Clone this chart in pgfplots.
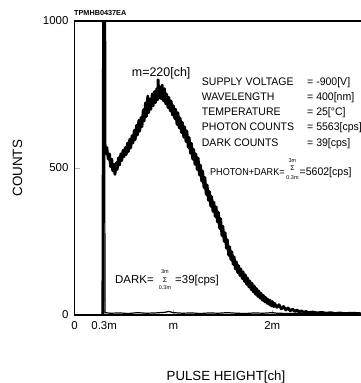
\documentclass[border=0pt]{standalone}
\usepackage{pgfplots}
\pgfplotsset{compat=1.18}
\usepackage{fontspec}
\setmainfont{Liberation Sans}
\newfontfamily\narrowa[FakeStretch=0.96]{Liberation Sans}
\newfontfamily\narrowb[FakeStretch=0.91]{Liberation Sans}
\pgfplotstableread{
x y
60 2
63 3
65 1300
67 1300
68 580
70 548
72 570
75 530
78 548
80 505
83 530
85 490
88 512
90 478
93 518
95 495
98 535
100 510
103 548
105 525
108 560
110 538
113 570
115 545
118 585
120 556
123 598
125 568
128 610
130 585
133 628
135 596
138 645
140 612
143 662
145 625
148 672
150 640
153 698
155 660
158 722
160 675
163 745
165 688
168 735
170 700
173 752
175 712
178 760
180 722
183 770
185 732
186 800
188 738
190 775
193 735
195 782
198 728
200 770
203 718
205 752
208 705
210 740
213 694
215 728
218 680
220 712
223 668
225 700
228 648
230 688
233 636
235 670
238 620
240 655
243 605
245 640
248 590
250 626
253 570
255 604
258 550
260 584
263 530
265 564
268 512
270 548
273 494
275 534
278 476
280 510
283 455
285 490
288 433
290 468
293 410
295 442
298 390
300 420
303 370
305 403
308 352
310 384
313 335
315 368
318 316
320 350
323 294
325 328
328 270
330 302
333 250
335 280
338 227
340 256
343 203
345 232
348 188
350 215
353 172
355 198
358 156
360 181
363 144
365 168
368 134
370 157
373 124
375 147
378 114
380 137
383 104
385 126
388 95
390 116
393 86
395 108
398 78
400 99
403 70
405 90
408 63
410 82
413 57
415 74
418 50
420 67
423 45
425 60
428 40
430 54
433 36
435 50
438 31
440 46
443 28
445 40
450 26
455 35
460 21
465 29
470 17
475 24
480 14
485 20
490 12
495 17
500 10
505 14
510 9
515 12
520 8
530 10
540 7
550 9
560 6
570 8
580 5
590 7
600 5
620 6
640 4
660 4
}\photondark
\pgfplotstableread{
x y
60 2
64 3
65.2 1300
66.2 1300
68 8
80 6
100 7
120 5
140 8
160 6
180 7
200 9
210 12
220 8
240 6
260 7
280 5
300 7
320 6
340 8
360 6
380 5
400 7
420 6
440 8
450 6
480 5
500 6
520 5
560 6
600 5
660 5
}\dark
\begin{document}
\begin{tikzpicture}[x=1bp,y=1bp]
\path[use as bounding box] (0,0) rectangle (361,383);
\begin{axis}[
  at={(74.5bp,68bp)}, anchor=south west,
  scale only axis, width=296.7bp, height=294bp,
  xmin=0, xmax=660, ymin=0, ymax=1000,
  xtick={0,66,220,440}, xticklabels={0,0.3m,m,2m},
  ytick={0,500,1000}, yticklabels={0,500,1000},
  tick align=inside, xtick pos=bottom, ytick pos=left,
  major tick length=5bp,
  every tick/.style={gray!60, line width=0.4bp},
  tick label style={font=\fontsize{11.5}{12}\selectfont},
  xticklabel style={text height=8.3bp, yshift=-3bp},
  yticklabel style={xshift=-2.5bp},
  axis line style={line width=1.2bp},
]
\addplot[black, line width=2.8bp, line join=round] table[x=x,y=y] {\photondark};
\addplot[black, line width=1.2bp, line join=round] table[x=x,y=y] {\dark};
\end{axis}
\node[anchor=base west, inner sep=0, font=\bfseries\fontsize{7.3}{8}\selectfont] at (74,367.3) {TPMHB0437EA};
\node[anchor=base west, inner sep=0, font=\fontsize{12.5}{13}\selectfont] at (131.7,307) {m=220[ch]};
\begin{scope}[every node/.style={anchor=base west, inner sep=0, font=\narrowa\fontsize{11}{12}\selectfont}]
\node at (201.7,298) {SUPPLY VOLTAGE}; \node at (307,298) {= -900[V]};
\node at (201.7,282.5) {WAVELENGTH}; \node at (307,282.5) {= 400[nm]};
\node at (201.7,268) {TEMPERATURE}; \node at (307,268) {= 25[°C]};
\node at (201.7,252.5) {PHOTON COUNTS}; \node at (307,252.5) {= 5563[cps]};
\node at (201.7,237) {DARK COUNTS}; \node at (307,237) {= 39[cps]};
\end{scope}
% PHOTON+DARK
\node[anchor=base west, inner sep=0, font=\narrowb\fontsize{10}{12}\selectfont] at (210,207.5) {PHOTON+DARK=};
\node[inner sep=0, font=\fontsize{7}{8}\selectfont] at (292.5,214.5) {Σ};
\node[inner sep=0, font=\fontsize{5.5}{7}\selectfont] at (292.5,222.5) {3m};
\node[inner sep=0, font=\fontsize{5.5}{7}\selectfont] at (292.5,205.5) {0.3m};
\node[anchor=base west, inner sep=0, font=\narrowa\fontsize{11}{12}\selectfont] at (299.5,207.5) {=5602[cps]};
% DARK
\node[anchor=base west, inner sep=0, font=\fontsize{11.5}{12}\selectfont] at (115,99.5) {DARK=};
\node[inner sep=0, font=\fontsize{7}{8}\selectfont] at (165,103) {Σ};
\node[inner sep=0, font=\fontsize{5.5}{7}\selectfont] at (165,111) {3m};
\node[inner sep=0, font=\fontsize{5.5}{7}\selectfont] at (165,95) {0.3m};
\node[anchor=base west, inner sep=0, font=\fontsize{11.5}{12}\selectfont] at (175,99.5) {=39[cps]};
% axis labels
\node[rotate=90, anchor=base, inner sep=0, font=\fontsize{13.5}{14}\selectfont] at (22,214.7) {COUNTS};
\node[anchor=base, inner sep=0, font=\fontsize{13.3}{14}\selectfont] at (226,3) {PULSE HEIGHT[ch]};
\end{tikzpicture}
\end{document}
